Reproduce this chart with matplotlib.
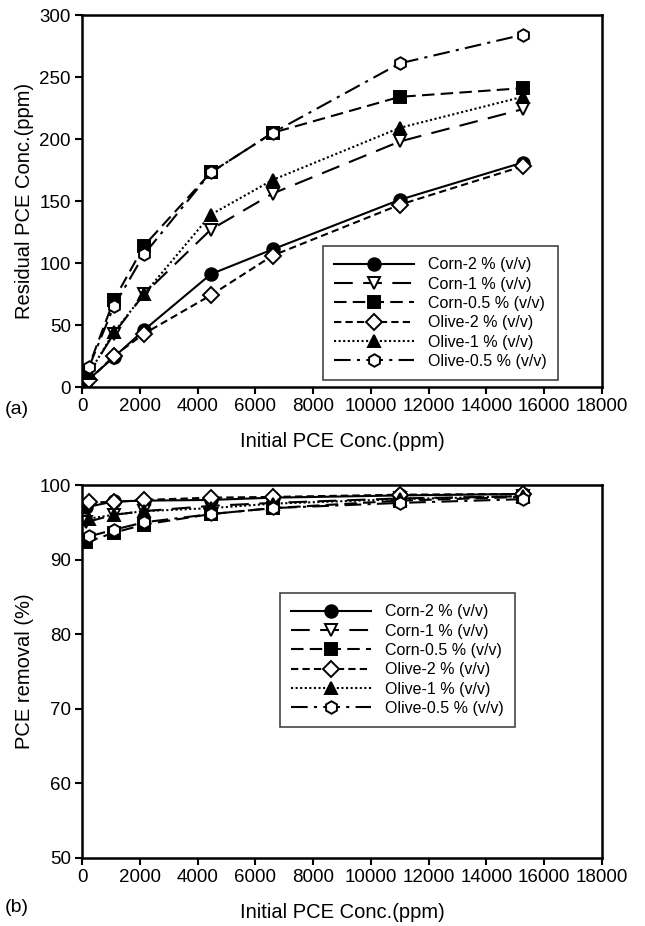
import matplotlib
matplotlib.use("Agg")
import matplotlib.pyplot as plt

plt.rcParams['font.family'] = ['Liberation Sans', 'DejaVu Sans']

# Initial PCE concentrations (ppm); corn and olive series start at slightly different lows
x_corn = [130, 1100, 2150, 4460, 6600, 11000, 15250]
x_olive = [240, 1100, 2150, 4460, 6600, 11000, 15250]

labels = ['Corn-2 % (v/v)', 'Corn-1 % (v/v)', 'Corn-0.5 % (v/v)',
          'Olive-2 % (v/v)', 'Olive-1 % (v/v)', 'Olive-0.5 % (v/v)']

# Residual PCE concentration (ppm)
res_corn2 = [4, 24, 46, 91, 111, 151, 181]
res_corn1 = [6.5, 43, 75, 127, 156, 198, 224]
res_corn05 = [10, 70, 114, 173, 205, 234, 241]
res_olive2 = [5.5, 25, 43, 74, 106, 147, 178]
res_olive1 = [11, 44, 75, 139, 167, 209, 234]
res_olive05 = [16, 65, 107, 173, 205, 261, 284]

# PCE removal (%)
rem_corn2 = [97.0, 97.8, 97.9, 98.0, 98.3, 98.6, 98.8]
rem_corn1 = [95.0, 96.0, 96.5, 97.2, 97.6, 98.2, 98.5]
rem_corn05 = [92.3, 93.6, 94.7, 96.1, 96.9, 97.9, 98.4]
rem_olive2 = [97.7, 97.7, 98.0, 98.3, 98.4, 98.7, 98.8]
rem_olive1 = [95.5, 96.0, 96.5, 96.9, 97.5, 98.1, 98.5]
rem_olive05 = [93.1, 94.0, 95.0, 96.1, 96.9, 97.6, 98.1]

x_ticks = list(range(0, 18001, 2000))

styles = [
    dict(linestyle='-', marker='o', mfc='black'),
    dict(linestyle=(0, (9, 5)), marker='v', mfc='white'),
    dict(linestyle=(0, (6, 3)), marker='s', mfc='black'),
    dict(linestyle=(0, (3.5, 2)), marker='D', mfc='white', ms=7.8),
    dict(linestyle=(0, (1, 1.2)), marker='^', mfc='black'),
    dict(linestyle=(0, (8, 3, 1.5, 3)), marker='h', mfc='white'),
]

xs = [x_corn, x_corn, x_corn, x_olive, x_olive, x_olive]
top_series = [res_corn2, res_corn1, res_corn05, res_olive2, res_olive1, res_olive05]
bot_series = [rem_corn2, rem_corn1, rem_corn05, rem_olive2, rem_olive1, rem_olive05]

fig = plt.figure(figsize=(6.45, 9.26), dpi=100)
W, H = 645, 926
ax1 = fig.add_axes([82 / W, 1 - 387 / H, 520 / W, 372 / H])
ax2 = fig.add_axes([82 / W, 1 - 858 / H, 520 / W, 373 / H])


def draw(ax, series, ylim, yticks, ylabel, legend_anchor):
    for xv, yv, lab, st in zip(xs, series, labels, styles):
        st = dict(st)
        ms = st.pop('ms', 9)
        ax.plot(xv, yv, color='black', lw=1.5, ms=ms, mec='black', mew=1.4,
                label=lab, **st)
    ax.set_xlim(0, 18000)
    ax.set_ylim(*ylim)
    ax.set_xticks(x_ticks)
    ax.set_yticks(yticks)
    ax.tick_params(direction='out', length=5, width=1.5, labelsize=13.5,
                   pad=3, colors='black')
    for sp in ax.spines.values():
        sp.set_linewidth(1.8)
    ax.set_xlabel('Initial PCE Conc.(ppm)', fontsize=14.5, labelpad=12)
    ax.set_ylabel(ylabel, fontsize=14.5, labelpad=4)
    leg = ax.legend(loc='lower left', bbox_to_anchor=legend_anchor,
                    bbox_transform=fig.transFigure, fontsize=11.5,
                    handlelength=5.0, handletextpad=0.9, labelspacing=0.27,
                    borderpad=0.7, borderaxespad=0, fancybox=False,
                    edgecolor='#444444', framealpha=1)
    leg.get_frame().set_linewidth(1.2)


draw(ax1, top_series, (0, 300), range(0, 301, 50),
     'Residual PCE Conc.(ppm)', (323 / W, 1 - 380 / H))
draw(ax2, bot_series, (50, 100), range(50, 101, 10),
     'PCE removal (%)', (280 / W, 1 - 727 / H))

fig.text(5 / W, 1 - 410 / H, '(a)', fontsize=14, ha='left', va='center')
fig.text(5 / W, 1 - 908 / H, '(b)', fontsize=14, ha='left', va='center')

fig.savefig('out.png', dpi=100)
